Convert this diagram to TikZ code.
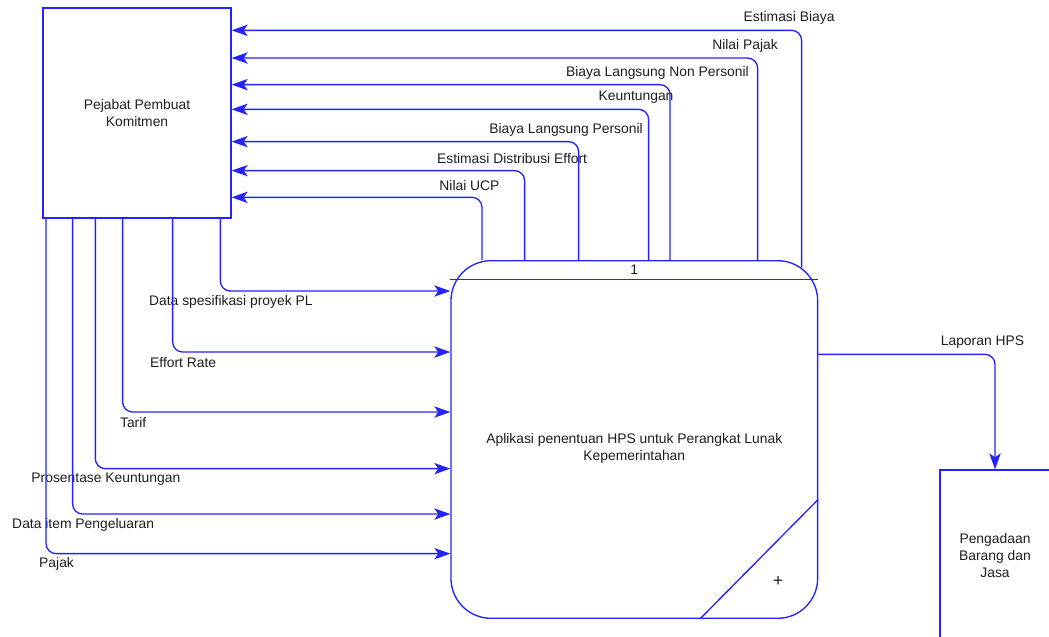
\documentclass[tikz,border=0pt]{standalone}
\usepackage{fontspec}
\setmainfont{Liberation Sans}
\usetikzlibrary{arrows.meta,calc}

\definecolor{dfdblue}{RGB}{35,35,250}
\definecolor{dfdtext}{RGB}{30,30,30}

\begin{document}
\begin{tikzpicture}[x=0.75pt,y=-0.75pt,>={Stealth[length=12pt,width=8.5pt,inset=3pt]},
    font=\fontsize{10.4}{12.75}\selectfont,text=dfdtext,
    entity/.style={draw=dfdblue,line width=1pt,align=center,inner sep=0pt},
    process/.style={draw=dfdblue,line width=1pt,rounded corners=30pt,fill=white},
    flow/.style={->,draw=dfdblue,line width=1pt,rounded corners=7.5pt},
    lbltop/.style={pos=.5,xshift=-9.4pt,yshift=9pt},
    lblbot/.style={pos=.5,xshift=7.9pt,yshift=-8pt}]
  \useasboundingbox (0,0) rectangle (1049,636);

  % external entities and the process
  \node[entity,minimum width=141pt,minimum height=157.5pt] (ppk) at (137,113) {Pejabat Pembuat\\Komitmen};
  \node[entity,minimum width=82.5pt,minimum height=129pt] (pbj) at (995,556) {Pengadaan\\Barang dan\\Jasa};
  \node[process,minimum width=275pt,minimum height=268.2pt] (proc) at (634.3,439.5) {};
  \node (procno) at ($(proc.north)+(0,9.5)$) {1};
  \draw[dfdblue,line width=1pt] ($(proc.north west)+(0,19.3)$) -- ($(proc.north east)+(0,19.3)$);
  \node[align=center] (proctext) at ($(proc.center)+(0,9.3)$) {Aplikasi penentuan HPS untuk Perangkat Lunak\\Kepemerintahan};
  \draw[dfdblue,line width=1pt] ($(proc.north east)+(0,239.3)$) -- ($(proc.south east)+(-118.4,0)$);
  \node[font=\fontsize{13}{13}\selectfont] (procplus) at ($(proc.south east)+(-40,-37.6)$) {+};

  % flows back to the PPK
  \draw[flow] ($(proc.north east)+(-16.7,7.5)$) |- ($(ppk.north east)+(0,23)$) node[lbltop]{Estimasi Biaya};
  \draw[flow] ($(proc.north west)+(307.3,0)$) |- ($(ppk.north east)+(0,50.7)$) node[lbltop]{Nilai Pajak};
  \draw[flow] ($(proc.north west)+(219.7,0)$) |- ($(ppk.north east)+(0,77.3)$) node[lbltop]{Biaya Langsung Non Personil};
  \draw[flow] ($(proc.north west)+(198.3,0)$) |- ($(ppk.north east)+(0,102)$) node[lbltop]{Keuntungan};
  \draw[flow] ($(proc.north west)+(128.3,0)$) |- ($(ppk.north east)+(0,134.3)$) node[lbltop]{Biaya Langsung Personil};
  \draw[flow] ($(proc.north west)+(74.3,0)$) |- ($(ppk.north east)+(0,163.3)$) node[lbltop]{Estimasi Distribusi Effort};
  \draw[flow] ($(proc.north west)+(31.7,0)$) |- ($(ppk.north east)+(0,190)$) node[lbltop]{Nilai UCP};

  % flows from the PPK into the process
  \draw[flow] ($(ppk.south west)+(178,0)$) |- ($(proc.north west)+(0,31)$) node[lblbot]{Data spesifikasi proyek PL};
  \draw[flow] ($(ppk.south west)+(130.3,0)$) |- ($(proc.north west)+(0,92)$) node[lblbot]{Effort Rate};
  \draw[flow] ($(ppk.south west)+(80.3,0)$) |- ($(proc.north west)+(0,152)$) node[lblbot]{Tarif};
  \draw[flow] ($(ppk.south west)+(53,0)$) |- ($(proc.north west)+(0,208.6)$) node[lblbot]{Prosentase Keuntungan};
  \draw[flow] ($(ppk.south west)+(30.3,0)$) |- ($(proc.north west)+(0,254)$) node[lblbot]{Data item Pengeluaran};
  \draw[flow] ($(ppk.south west)+(3.7,0)$) |- ($(proc.north west)+(0,293.6)$) node[lblbot]{Pajak};

  % report out
  \draw[flow] ($(proc.north east)+(0,94.3)$) -| (pbj.north) node[lbltop]{Laporan HPS};
\end{tikzpicture}
\end{document}
